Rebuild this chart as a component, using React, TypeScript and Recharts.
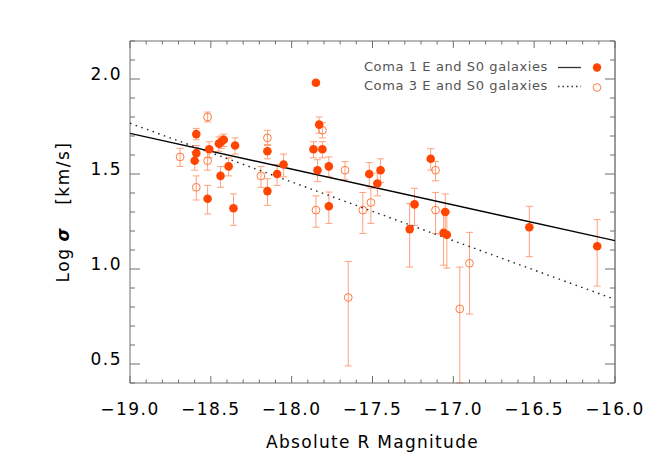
import React from 'react';
import { ScatterChart, Scatter, XAxis, YAxis, ErrorBar, Customized } from 'recharts';

// Coma 1 E and S0 galaxies (filled symbols)
const coma1Mag = [-18.59, -18.59, -18.60, -18.51, -18.52, -18.45, -18.435, -18.42, -18.44, -18.39, -18.35, -18.36, -18.15, -18.15, -18.09, -18.05, -17.85, -17.83, -17.81, -17.865, -17.84, -17.77, -17.77, -17.52, -17.45, -17.47, -17.27, -17.24, -17.14, -17.05, -17.06, -17.04, -16.53, -16.11];
const coma1LogSigma = [1.71, 1.61, 1.57, 1.63, 1.37, 1.66, 1.67, 1.68, 1.49, 1.54, 1.65, 1.32, 1.62, 1.41, 1.50, 1.55, 1.98, 1.76, 1.63, 1.63, 1.52, 1.54, 1.33, 1.50, 1.52, 1.45, 1.21, 1.34, 1.58, 1.30, 1.19, 1.18, 1.22, 1.12];
const coma1ErrLow = [0.03, 0.04, 0.05, 0.045, 0.08, 0.04, 0.035, 0.035, 0.06, 0.05, 0.045, 0.09, 0.04, 0.075, 0.06, 0.065, 0.01, 0.045, 0.045, 0.045, 0.06, 0.055, 0.09, 0.065, 0.065, 0.065, 0.20, 0.11, 0.06, 0.12, 0.17, 0.175, 0.155, 0.21];
const coma1ErrHigh = [0.03, 0.04, 0.045, 0.04, 0.07, 0.035, 0.03, 0.03, 0.05, 0.045, 0.04, 0.075, 0.035, 0.065, 0.05, 0.055, 0.01, 0.04, 0.04, 0.04, 0.055, 0.05, 0.075, 0.06, 0.06, 0.055, 0.135, 0.085, 0.053, 0.095, 0.115, 0.12, 0.11, 0.14];

// Coma 3 E and S0 galaxies (open symbols)
const coma3Mag = [-18.69, -18.59, -18.52, -18.52, -18.15, -18.19, -17.81, -17.85, -17.67, -17.56, -17.51, -17.65, -17.11, -17.11, -16.96, -16.90];
const coma3LogSigma = [1.59, 1.43, 1.80, 1.57, 1.69, 1.49, 1.73, 1.31, 1.52, 1.31, 1.35, 0.85, 1.52, 1.31, 0.79, 1.03];
const coma3ErrLow = [0.05, 0.067, 0.026, 0.05, 0.04, 0.06, 0.04, 0.09, 0.05, 0.123, 0.11, 0.36, 0.056, 0.123, 0.39, 0.267];
const coma3ErrHigh = [0.045, 0.06, 0.026, 0.05, 0.04, 0.05, 0.04, 0.075, 0.045, 0.093, 0.075, 0.19, 0.046, 0.093, 0.22, 0.163];

// linear fits, end points at the plot edges
const fitMag = [-19.0, -16.0];
const coma1Fit = [1.714, 1.149];
const coma3Fit = [1.767, 0.84];

const seriesNames = ['Coma 1 E and S0 galaxies', 'Coma 3 E and S0 galaxies'];

const xTicks = [-19.0, -18.9, -18.8, -18.7, -18.6, -18.5, -18.4, -18.3, -18.2, -18.1, -18.0, -17.9, -17.8, -17.7, -17.6, -17.5, -17.4, -17.3, -17.2, -17.1, -17.0, -16.9, -16.8, -16.7, -16.6, -16.5, -16.4, -16.3, -16.2, -16.1, -16.0];
const yTicks = [0.4, 0.5, 0.6, 0.7, 0.8, 0.9, 1.0, 1.1, 1.2, 1.3, 1.4, 1.5, 1.6, 1.7, 1.8, 1.9, 2.0, 2.1, 2.2];

const FILLED = '#FF4500';
const OPEN = '#FF7A40';
const ERR = '#FFA07C';
const AXIS = '#6e6e6e';
const FONT = '"DejaVu Sans", sans-serif';

const coma1 = coma1Mag.map((x, i) => ({ x, y: coma1LogSigma[i], err: [coma1ErrLow[i], coma1ErrHigh[i]] }));
const coma3 = coma3Mag.map((x, i) => ({ x, y: coma3LogSigma[i], err: [coma3ErrLow[i], coma3ErrHigh[i]] }));
const fit1 = fitMag.map((x, i) => ({ x, y: coma1Fit[i] }));
const fit3 = fitMag.map((x, i) => ({ x, y: coma3Fit[i] }));

const isMajor = (v: number) => Math.abs(v * 2 - Math.round(v * 2)) < 1e-6;
const fmt = (v: number) => v.toFixed(1).replace('-', '\u2212');

// inward ticks, labels only on the major ones
const BottomTick = ({ x, y, payload }: any) => {
  const major = isMajor(payload.value);
  return (
    <g>
      <line x1={x} x2={x} y1={y} y2={y - (major ? 7 : 3.5)} stroke={AXIS} />
      {major && (
        <text x={x} y={y + 32} textAnchor="middle" fontSize={17} letterSpacing={1.5} fill="#000" fontFamily={FONT}>
          {fmt(payload.value)}
        </text>
      )}
    </g>
  );
};
const TopTick = ({ x, y, payload }: any) => (
  <line x1={x} x2={x} y1={y} y2={y + (isMajor(payload.value) ? 7 : 3.5)} stroke={AXIS} />
);
const LeftTick = ({ x, y, payload }: any) => {
  const major = isMajor(payload.value);
  return (
    <g>
      <line x1={x} x2={x + (major ? 10 : 5)} y1={y} y2={y} stroke={AXIS} />
      {major && (
        <text x={x - 8} y={y + 1} textAnchor="end" fontSize={17} letterSpacing={1.5} fill="#000" fontFamily={FONT}>
          {fmt(payload.value)}
        </text>
      )}
    </g>
  );
};
const RightTick = ({ x, y, payload }: any) => (
  <line x1={x} x2={x - (isMajor(payload.value) ? 10 : 5)} y1={y} y2={y} stroke={AXIS} />
);

const XTitle = ({ viewBox }: any) => (
  <text x={viewBox.x + viewBox.width / 2} y={viewBox.y + 65} textAnchor="middle" fontSize={17} letterSpacing={1.3} fill="#000" fontFamily={FONT}>
    Absolute R Magnitude
  </text>
);
const YTitle = ({ viewBox }: any) => {
  const cx = viewBox.x + 39;
  const cy = viewBox.y + viewBox.height / 2;
  return (
    <text x={cx} y={cy} transform={`rotate(-90, ${cx}, ${cy})`} textAnchor="middle" fontSize={17} letterSpacing={1.5} fill="#000" fontFamily={FONT}>
      Log
      <tspan dx={6} fontWeight="bold" fontStyle="italic">σ</tspan>
      <tspan dx={22}>[km/s]</tspan>
    </text>
  );
};

const LegendBox = () => {
  const rows = [
    { name: seriesNames[0], y: 62.5, dash: undefined, filled: true },
    { name: seriesNames[1], y: 81.5, dash: '1.5 3', filled: false },
  ];
  return (
    <g fontFamily={FONT}>
      {rows.map((r) => (
        <g key={r.name}>
          <text x={540} y={r.y} textAnchor="end" fontSize={13} letterSpacing={0.6} fill="#555">{r.name}</text>
          <line x1={550} x2={573} y1={r.y - 3} y2={r.y - 3} stroke="#333" strokeWidth={1.3} strokeDasharray={r.dash} />
          {r.filled
            ? <circle cx={589} cy={r.y - 3} r={4.2} fill={FILLED} />
            : <circle cx={589} cy={r.y - 2} r={3.8} fill="none" stroke={OPEN} strokeWidth={1} />}
        </g>
      ))}
    </g>
  );
};

const FilledDot = ({ cx, cy }: any) => <circle cx={cx} cy={cy} r={4.3} fill={FILLED} />;
const OpenDot = ({ cx, cy }: any) => <circle cx={cx} cy={cy} r={3.9} fill="none" stroke={OPEN} strokeWidth={1} />;
const NoDot = () => <g />;

export default function App() {
  return (
    <ScatterChart width={646} height={451} margin={{ top: 32, right: 38, bottom: 46, left: 22 }}>
      <XAxis
        type="number" dataKey="x" domain={[-19, -16]} allowDataOverflow ticks={xTicks} interval={0}
        height={30} tickSize={0} tickMargin={0} tick={<BottomTick />} axisLine={{ stroke: AXIS }}
        label={<XTitle />}
      />
      <XAxis
        xAxisId="top" orientation="top" type="number" dataKey="x" domain={[-19, -16]} allowDataOverflow ticks={xTicks}
        interval={0} height={1} tickSize={0} tickMargin={0} tick={<TopTick />} axisLine={{ stroke: AXIS }}
      />
      <YAxis
        type="number" dataKey="y" domain={[0.4, 2.2]} allowDataOverflow ticks={yTicks} interval={0}
        width={100} tickSize={0} tickMargin={0} tick={<LeftTick />} axisLine={{ stroke: AXIS }}
        label={<YTitle />}
      />
      <YAxis
        yAxisId="right" orientation="right" type="number" dataKey="y" domain={[0.4, 2.2]} allowDataOverflow ticks={yTicks}
        interval={0} width={1} tickSize={0} tickMargin={0} tick={<RightTick />} axisLine={{ stroke: '#9a9a9a', strokeWidth: 2 }}
      />
      {/* fit lines ride on the mirrored top/right axes (same domains) so those axes get drawn */}
      <Scatter data={fit1} xAxisId="top" yAxisId="right" line={{ stroke: '#000', strokeWidth: 1.4 }} shape={<NoDot />} isAnimationActive={false} />
      <Scatter data={fit3} xAxisId="top" yAxisId="right" line={{ stroke: '#222', strokeWidth: 1.4, strokeDasharray: '1.5 4.5' }} shape={<NoDot />} isAnimationActive={false} />
      <Scatter data={coma3} shape={<OpenDot />} isAnimationActive={false}>
        <ErrorBar dataKey="err" direction="y" width={3.5} stroke={ERR} strokeWidth={1} />
      </Scatter>
      <Scatter data={coma1} shape={<FilledDot />} isAnimationActive={false}>
        <ErrorBar dataKey="err" direction="y" width={3.5} stroke={ERR} strokeWidth={1} />
      </Scatter>
      <Customized component={<LegendBox />} />
    </ScatterChart>
  );
}
